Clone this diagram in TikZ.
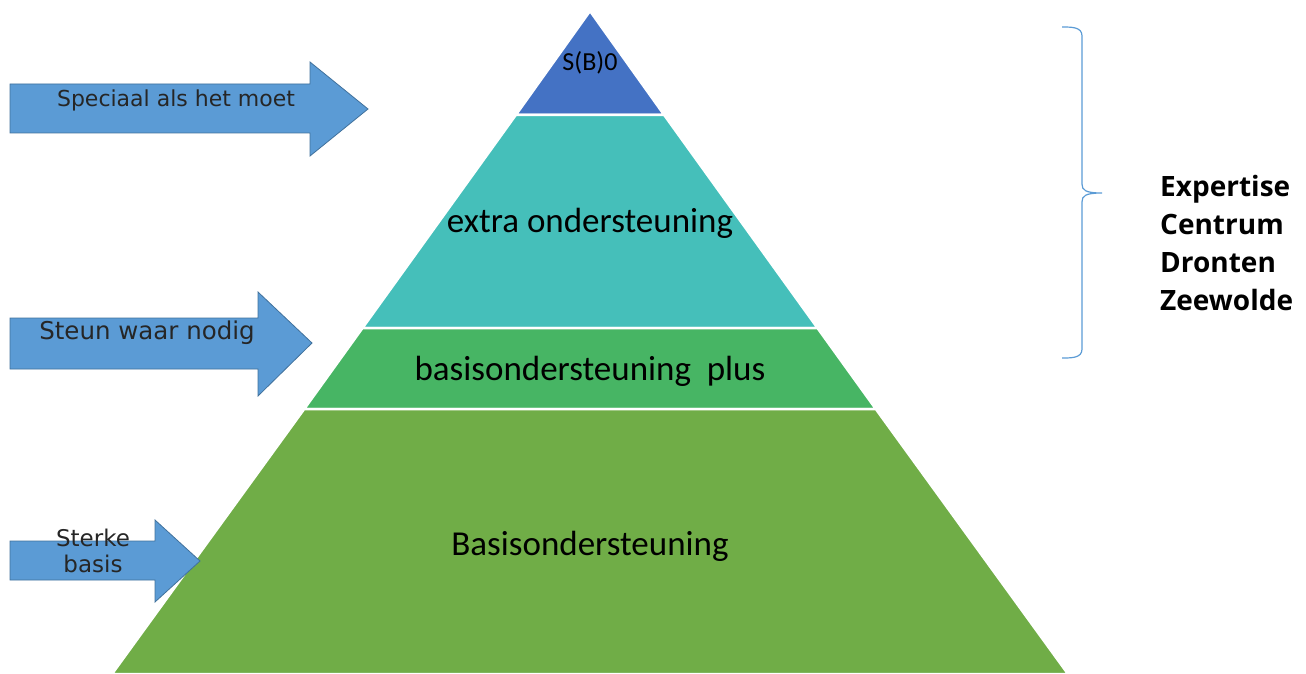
\documentclass[tikz,border=0pt]{standalone}
\usepackage{fontspec}
\setmainfont{Carlito}
\newfontfamily\arrowfont{DejaVu Sans}
\newfontfamily\boldsans[Ligatures=NoCommon]{Open Sans}
\definecolor{topblue}{HTML}{4472C4}
\definecolor{teal}{HTML}{45BFBA}
\definecolor{midgreen}{HTML}{47B564}
\definecolor{basegreen}{HTML}{70AD47}
\definecolor{arrowblue}{HTML}{5B9BD5}
\definecolor{arrowedge}{HTML}{41719C}
\begin{document}
\begin{tikzpicture}[x=1pt,y=-1pt,
  layer/.style={draw=white,line width=2.5pt,line join=miter},
  arr/.style={fill=arrowblue,draw=arrowedge,line width=0.8pt},
  lbl/.style={font=\fontsize{#1}{#1}\selectfont,inner sep=0pt},
  albl/.style={font=\arrowfont\fontsize{#1}{#1}\selectfont,inner sep=0pt,text=black!85}]
\useasboundingbox (0,0) rectangle (1306,674);
% pyramid (apex 590,12; slope 0.72)
\path[layer,fill=topblue] (590,11) -- (664.2,115) -- (515.8,115) -- cycle;
\path[layer,fill=teal] (515.8,115) -- (664.2,115) -- (817.5,328) -- (362.5,328) -- cycle;
\path[layer,fill=midgreen] (362.5,328) -- (817.5,328) -- (875.8,409) -- (304.2,409) -- cycle;
\path[layer,fill=basegreen] (304.2,409) -- (875.8,409) -- (1068,674) -- (112,674) -- cycle;
\node[lbl=26] (sbo) at (590,63) {S(B)0};
\node[lbl=35] (extra) at (590,223) {extra ondersteuning};
\node[lbl=35] (plus) at (590,371) {basisondersteuning\ \ plus};
\node[lbl=35] (basis) at (590,546) {Basisondersteuning};
% arrows
\path[arr] (10,84) -- (310,84) -- (310,62) -- (368,109) -- (310,156) -- (310,133) -- (10,133) -- cycle;
\path[arr] (10,318) -- (258,318) -- (258,292) -- (312,343) -- (258,396) -- (258,369) -- (10,369) -- cycle;
\path[arr] (10,541) -- (155,541) -- (155,520) -- (200,561) -- (155,602) -- (155,580) -- (10,580) -- cycle;
\node[albl=22] (a1) at (176,100) {Speciaal als het moet};
\node[albl=24.5] (a2) at (147,333) {Steun waar nodig};
\node[albl=23,align=center,font=\arrowfont\fontsize{23}{26}\selectfont] (a3) at (93,551) {Sterke\\basis};
% brace
\draw[arrowblue,line width=1.2pt] (1062,27) .. controls (1072,27) and (1082,27) .. (1082,36) -- (1082,184) .. controls (1082,190) and (1085,193) .. (1102,193) .. controls (1085,193) and (1082,196) .. (1082,202) -- (1082,349) .. controls (1082,358) and (1072,358) .. (1062,358);
\node[anchor=west,align=left,inner sep=0pt,font=\boldsans\bfseries\fontsize{28}{38}\selectfont] (ecdz) at (1160,243) {Expertise\\Centrum\\Dronten\\Zeewolde};
\end{tikzpicture}
\end{document}
